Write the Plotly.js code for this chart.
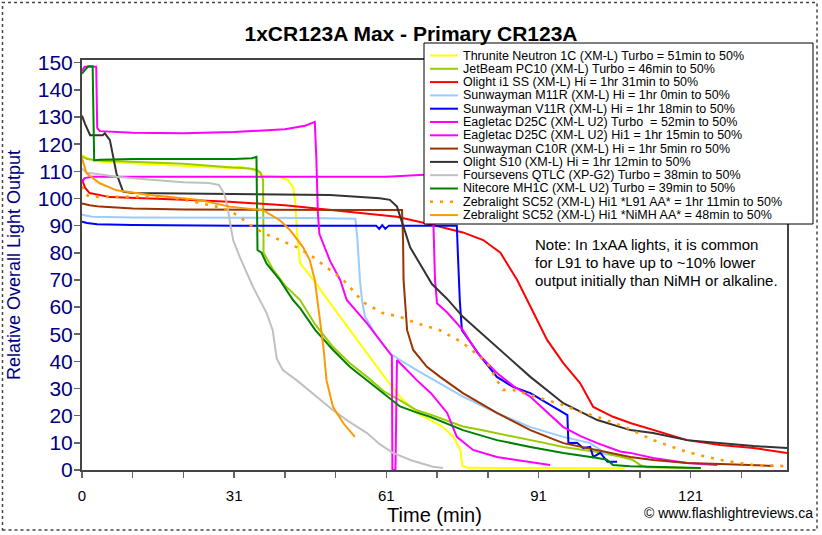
<!DOCTYPE html>
<html><head><meta charset="utf-8">
<script src="https://cdn.plot.ly/plotly-3.0.1.min.js"></script>
<style>html,body{margin:0;padding:0;background:#fff}#chart{width:822px;height:535px}</style>
</head><body><div id="chart"></div>
<script>
// ---------- data (x = time in minutes, y = relative output) ----------
const seriesNames = [
  "Thrunite Neutron 1C (XM-L) Turbo = 51min to 50%",
  "JetBeam PC10 (XM-L) Turbo = 46min to 50%",
  "Olight i1 SS (XM-L) Hi = 1hr 31min to 50%",
  "Sunwayman M11R (XM-L) Hi = 1hr 0min to 50%",
  "Sunwayman V11R (XM-L) Hi = 1hr 18min to 50%",
  "Eagletac D25C (XM-L U2) Turbo  = 52min to 50%",
  "Eagletac D25C (XM-L U2) Hi1 = 1hr 15min to 50%",
  "Sunwayman C10R (XM-L) Hi = 1hr 5min ro 50%",
  "Olight S10 (XM-L) Hi = 1hr 12min to 50%",
  "Foursevens QTLC (XP-G2) Turbo = 38min to 50%",
  "Nitecore MH1C (XM-L U2) Turbo = 39min to 50%",
  "Zebralight SC52 (XM-L) Hi1 *L91 AA* = 1hr 11min to 50%",
  "Zebralight SC52 (XM-L) Hi1 *NiMH AA* = 48min to 50%"
];
const seriesColors = ["#FFFF00","#99CC00","#FF0000","#99CCFF","#0000FF","#FF00FF","#FF00FF","#993300","#333333","#C0C0C0","#008000","#FF9900","#FF9900"];
const seriesDash = ["solid","solid","solid","solid","solid","solid","solid","solid","solid","solid","solid","3px,7px","solid"];

const thruniteX = [0,1.5,3.5,10,17,25,30,31,34,35.5,39,40.6,41.6,42,42.4,43,45.6,49.5,52.8,56.2,60.1,62.7,66,68.6,71,73.2,74.6,75,76,107];
const thruniteY = [116,114.5,113.5,112.8,112.3,111.5,111.2,111.8,110.5,108.5,108,106.8,104.2,99.4,87.2,76.2,70,60,51.5,43,33.1,27,21,18.5,16,12.2,7.4,1.5,0.8,0.6];

const jetbeamX = [0,1,3.5,10,20,29,33,34.5,35.2,35.7,35.8,37.6,40,43,46,49.5,53,56.2,59.5,62.4,66,68.6,71.5,75.1,78.5,81.8,85,88.4,91.6,94.9,98.3,101.6,106,108.5,110.1,111.4,122];
const jetbeamY = [115.5,114.5,114,113.5,112.8,111.5,111,110.5,109.5,106.8,80,74,68,62.6,53.5,45.3,39,34.3,29,26,22,20.5,18.5,16,14.8,13.6,12.3,11,9.8,8.5,7.5,6.6,5,3.8,1.8,1,0.6];

const olightI1X = [0,0.6,1.5,5.5,20,29,40,48.9,56,62.1,68.6,75.1,79.1,82.5,85.8,88.4,91.7,94.9,98.2,100.8,104.7,108.1,112.6,119.3,125.8,132.4,139];
const olightI1Y = [107,104,102,100.5,99.5,98.8,97.5,95.7,94.5,93.3,90.5,87.5,84.7,80,70,60,47.9,39.4,32,23.2,19.6,17.3,14.7,11,9.2,8.1,6.3];

const m11rX = [0,2,10,30,45,53.9,54.3,54.8,55.2,55.8,58.2,60.7,62.7,66,68.6,71,75.1,81.8,88.4,94.9,100.2,102.2,103.6];
const m11rY = [94,93.3,93,93,92.8,92.5,85,70,62.6,56.4,49,43,40.5,36.8,34,31.5,27,21,15.8,12.2,9.9,7.4,5.5];

const v11rX = [0,1,3,10,30,58,58.6,59.2,59.8,60.5,61.2,73.9,74.1,74.5,74.9,78.5,81.8,85,88.4,91.7,94.9,95.7,95.9,97.6,98.8,100.2,100.8,102.2,103.6,105.5];
const v11rY = [91.4,91,90.5,90.2,90,90,88.8,90.2,88.8,90,90,90,80,62,51.5,42,34.3,30.6,28.3,24.6,21,20.2,9.9,10,8.1,8.5,4.8,6.3,3,3];

const d25cTurboX = [0,0.5,2.8,2.9,3.0,3.5,10,20,30,40,44,45.9,46.2,46.5,46.8,48.9,50.9,52.2,56.2,60.7,61.1,61.2,61.8,62.1,66,68.8,72,73.9,77.1,81.8,88.4,92.3];
const d25cTurboY = [147,148.5,148.5,135,126,124.8,124.2,124,124.5,125.5,126.8,128.2,115,95,87,77,70,62.6,54,43,42,0,0,40.5,33.1,28.3,21,12.2,7.4,4.8,3,1.8];

const d25cHi1X = [0,0.5,2,10,30,50,60,68.5,69.1,69.3,69.6,70,72,75.1,78,81.8,85,88.4,91.7,94.9,98.3,101.6,106.1,108.1,112.6,119.3,125.3];
const d25cHi1Y = [106,107.5,108,108,107.8,107.8,108,108.8,108.8,90,70,61.4,58,51.5,43,35.7,31,27,21.5,15.8,12.5,9.9,6.8,6.3,4.4,2.6,1.8];

const c10rX = [0,1.5,3.5,10,20,30,45,55,63.1,63.3,63.4,63.8,64.1,65.3,68,70.6,75.1,81.8,88.4,94.9,101.6,106.1,108.1,112.6,119.3,125.8,136.3];
const c10rY = [98.2,97.5,97,96.3,95.9,95.8,95.8,95.8,95.8,85,70,57.8,51.5,44.2,38,34.3,28.3,21,14.7,9.9,7.4,5.5,4.8,3.7,2.6,2.2,1.5];

const s10X = [0,0.6,1.6,4.1,4.5,5.5,6.8,8.1,10,36.5,48.9,58.7,60.7,62.1,63.1,64.7,69,72,75.1,81.8,88.4,94.9,101.6,108.1,112.6,119.3,125.8,132.4,139];
const s10Y = [130.5,127.5,123.3,123.3,124,121.5,109.2,102.5,102,101.7,101.3,100.1,99.5,97,90.9,82,68.5,63,56.4,45.3,34.3,24.6,18.4,14.7,13.6,11,9.9,8.8,8.1];

const qtlcX = [0,1,3,6.8,13,19.9,25,27,28,28.7,29.2,29.8,31.1,33.7,36.4,37.6,38.4,39.6,42.3,43,45.5,49.5,52.5,56.2,58.7,61.3,65,69.2,71.2];
const qtlcY = [111,109.5,109,108,107,106,105.7,105,102,97,91,84.7,78.5,67.5,57.8,51.5,41,36.8,33.1,32,28.3,22,18,13.6,9.5,6.3,3.5,1.2,0.7];

const mh1cX = [0,1.2,2.1,2.3,2.4,3.5,10,20,30,33.5,34.4,34.6,35.4,36.4,39,41.6,43,46,49.5,52.8,56.2,59.5,62.7,65.5,68.6,75.1,81.8,88.4,94.9,101.6,103.5,104.7,108,122];
const mh1cY = [146,148.7,148.7,130,114,114.3,114.5,114.5,114.5,114.8,115.3,81,80,76,70,62.6,59.6,51.5,44.2,38,33.1,28,23.4,21.5,19.6,14.7,11,8.5,6.3,4.4,3.8,1.8,1.4,0.7];

const sc52L91X = [0,0.4,1.5,10,16.7,20.6,26.5,29.1,31.1,32.5,35.7,39,42.4,45.5,48.9,51.5,53,55.4,59.3,62.7,66.1,68.6,70.6,75.1,79.9,81.8,83,85,88.4,91.7,94.9,98.2,101.6,107.1,112.6,119.3,125.8,132.4,138.3];
const sc52L91Y = [104.5,102,100.6,100.6,100.6,99.4,97,95.5,93.3,91,87.3,84.7,82,78.5,73.6,70,67,61.8,57.8,56.4,54,52.7,51.5,46.8,39.4,33.1,29.5,29.5,27.6,25.8,23.9,21.4,19.6,15.8,11,6.6,3.7,1.8,1.5];

const sc52NimhX = [0,0.9,3.5,6.8,13.4,23.2,29.1,35.7,39,41,43.6,44.9,45.9,46.9,47.6,48.2,49.5,51.5,53.8];
const sc52NimhY = [114.8,109.3,105.6,103,101.3,99.4,97,95.7,92,88.4,82,77.3,70,55.2,45.3,33.1,23.2,17.3,12.2];

const xTickVals = [0,10,20,30,40,50,60,70,80,90,100,110,120,130];
const xTickText = ["0","","","31","","","61","","","91","","","121",""];
const yTickVals = [0,10,20,30,40,50,60,70,80,90,100,110,120,130,140,150];

const chartTitle = "1xCR123A Max - Primary CR123A";
const xTitle = "Time (min)";
const yTitle = "Relative Overall Light Output";
const noteLines = ["Note: In 1xAA lights, it is common", "for L91 to have up to ~10% lower", "output initially than NiMH or alkaline."];
const creditText = "\u00a9 www.flashlightreviews.ca";

// ---------- build ----------
const FONT = "Arial, 'Liberation Sans', sans-serif";
const xs = [thruniteX, jetbeamX, olightI1X, m11rX, v11rX, d25cTurboX, d25cHi1X, c10rX, s10X, qtlcX, mh1cX, sc52L91X, sc52NimhX];
const ys = [thruniteY, jetbeamY, olightI1Y, m11rY, v11rY, d25cTurboY, d25cHi1Y, c10rY, s10Y, qtlcY, mh1cY, sc52L91Y, sc52NimhY];

const traces = seriesNames.map((name, i) => ({
  type: 'scatter', mode: 'lines', name: name,
  x: xs[i], y: ys[i],
  line: {color: seriesColors[i], width: seriesDash[i] === 'solid' ? 2 : 2.6, dash: seriesDash[i]},
  hoverinfo: 'skip'
}));

// pixel helpers for layout decorations (plot area: left 82, width 705, bottom 470, height 410)
const PL = 82, PW = 705, PB = 470, PH = 410;
const px = v => (v - PL) / PW;
const py = v => (PB - v) / PH;

const shapes = [];
const annotations = [];

// outer chart border
shapes.push({type:'rect', xref:'paper', yref:'paper', x0:px(2.5), x1:px(817), y0:py(530), y1:py(2.5),
  line:{color:'#444', width:1.5, dash:'dot'}, fillcolor:'rgba(0,0,0,0)', layer:'above'});

// legend box
shapes.push({type:'rect', xref:'paper', yref:'paper', x0:px(424), x1:px(813), y0:py(224), y1:py(43),
  line:{color:'#000', width:1}, fillcolor:'#ffffff', layer:'above'});
seriesNames.forEach((name, i) => {
  const rowY = 55.5 + i * 13.3;
  shapes.push({type:'line', xref:'paper', yref:'paper', x0:px(430), x1:px(458), y0:py(rowY), y1:py(rowY),
    line:{color:seriesColors[i], width: seriesDash[i] === 'solid' ? 2 : 2.6, dash: seriesDash[i]}, layer:'above'});
  annotations.push({xref:'paper', yref:'paper', x:px(461), y:py(rowY), xanchor:'left', yanchor:'middle',
    text:name, showarrow:false, font:{family:FONT, size:12.5, color:'#000'}});
});

noteLines.forEach((t, i) => {
  annotations.push({xref:'paper', yref:'paper', x:px(533), y:py(245 + i * 17.6), xanchor:'left', yanchor:'middle',
    text:t, showarrow:false, font:{family:FONT, size:15, color:'#000'}});
});
annotations.push({xref:'paper', yref:'paper', x:px(815), y:py(513), xanchor:'right', yanchor:'middle',
  text:creditText, showarrow:false, font:{family:FONT, size:14, color:'#000'}});

const layout = {
  width: 822, height: 535,
  margin: {l: PL, r: 822 - PL - PW, t: 60, b: 535 - PB},
  paper_bgcolor: '#ffffff', plot_bgcolor: '#ffffff',
  showlegend: false,
  font: {family: FONT, color: '#000'},
  title: {text: chartTitle, x: 0.5, xref: 'container', xanchor: 'center', y: 1 - 34 / 535, yref: 'container', yanchor: 'middle',
    font: {family: FONT, size: 21, weight: 700, color: '#000'}},
  xaxis: {range: [0, 139], tickmode: 'array', tickvals: xTickVals, ticktext: xTickText,
    ticks: 'outside', ticklen: 6, tickwidth: 1.5, tickcolor: '#666', ticklabelstandoff: 5,
    showgrid: false, zeroline: false, showline: true, linecolor: '#444', linewidth: 2, mirror: true,
    tickfont: {family: FONT, size: 15, color: '#000'},
    title: {text: xTitle, font: {family: FONT, size: 20, color: '#000'}, standoff: 4}},
  yaxis: {range: [0, 151], tickmode: 'array', tickvals: yTickVals,
    ticks: 'outside', ticklen: 6, tickwidth: 1.5, tickcolor: '#666', ticklabelstandoff: -3,
    showgrid: false, zeroline: false, showline: true, linecolor: '#444', linewidth: 2, mirror: true,
    tickfont: {family: FONT, size: 21, color: '#000080'},
    title: {text: yTitle, font: {family: FONT, size: 18, color: '#000080'}, standoff: 12}},
  shapes: shapes,
  annotations: annotations
};

Plotly.newPlot('chart', traces, layout, {staticPlot: true, displayModeBar: false});
</script>
</body></html>
